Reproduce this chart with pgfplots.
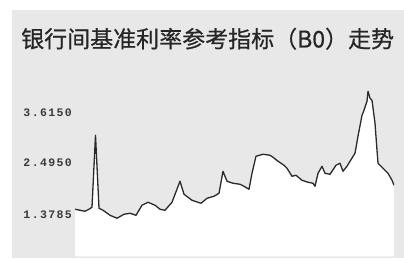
\documentclass[border=0pt]{standalone}
\usepackage{pgfplots}
\pgfplotsset{compat=1.18}
\usepackage{fontspec}
\newfontfamily\cjk[FakeBold=0.6]{Noto Sans CJK SC}
\newfontfamily\mono[LetterSpace=12]{Liberation Mono}
\definecolor{bg}{HTML}{E8E8E8}
\definecolor{ln}{HTML}{2A2A2A}
\definecolor{tk}{HTML}{3A3A3A}
\begin{document}
\begin{tikzpicture}[x=1pt,y=1pt]
\useasboundingbox (0,0) rectangle (404,259);
\fill[white] (0,0) rectangle (404,259);
\fill[bg] (12,1) rectangle (404,249);
\node[anchor=base west,inner sep=0pt,text=black!85] at (21,211.5)
  {\cjk\fontsize{23}{23}\selectfont 银行间基准利率参考指标（B0）走势};
\begin{axis}[
  at={(75,6)}, anchor=south west,
  scale only axis, width=319pt, height=173pt,
  xmin=0, xmax=319, ymin=0.534, ymax=4.328,
  axis line style={draw=none}, xtick=\empty, ytick=\empty,
  clip=true,
]
\addplot[draw=none, fill=white] coordinates {
(0,1.565) (5,1.543) (10,1.521) (14,1.565) (17,1.609) (20.5,3.188) (24,1.587)
(28,1.543) (35,1.433) (42,1.368) (49,1.455) (55,1.477) (61,1.433) (67,1.653)
(73,1.718) (80,1.653) (85,1.565) (90,1.543) (97,1.718) (105,2.179) (109,1.894)
(117,1.762) (126,1.696) (132,1.806) (139,1.850) (144,1.916) (148,2.398) (152,2.179)
(158,2.135) (165,2.113) (169,2.069) (174,2.003) (177,2.354) (181,2.727) (188,2.771)
(195,2.749) (198,2.705) (203,2.617) (209,2.530) (212,2.464) (217,2.288) (221,2.310)
(227,2.201) (233,2.157) (238,2.135) (240,2.069) (243,2.354) (247,2.508) (250,2.354)
(255,2.332) (261,2.530) (265,2.574) (268,2.398) (272,2.508) (275,2.617) (280,2.793)
(283,3.166) (287,3.626) (289,3.736) (292,3.933) (293,4.153) (295,3.999) (297,3.955)
(300,3.451) (302,2.859) (303,2.574) (308,2.464) (313,2.354) (317,2.201) (319,2.091)
} \closedcycle;
\addplot[ln, line width=1.3pt, line join=round] coordinates {
(0,1.565) (5,1.543) (10,1.521) (14,1.565) (17,1.609) (20.5,3.188) (24,1.587)
(28,1.543) (35,1.433) (42,1.368) (49,1.455) (55,1.477) (61,1.433) (67,1.653)
(73,1.718) (80,1.653) (85,1.565) (90,1.543) (97,1.718) (105,2.179) (109,1.894)
(117,1.762) (126,1.696) (132,1.806) (139,1.850) (144,1.916) (148,2.398) (152,2.179)
(158,2.135) (165,2.113) (169,2.069) (174,2.003) (177,2.354) (181,2.727) (188,2.771)
(195,2.749) (198,2.705) (203,2.617) (209,2.530) (212,2.464) (217,2.288) (221,2.310)
(227,2.201) (233,2.157) (238,2.135) (240,2.069) (243,2.354) (247,2.508) (250,2.354)
(255,2.332) (261,2.530) (265,2.574) (268,2.398) (272,2.508) (275,2.617) (280,2.793)
(283,3.166) (287,3.626) (289,3.736) (292,3.933) (293,4.153) (295,3.999) (297,3.955)
(300,3.451) (302,2.859) (303,2.574) (308,2.464) (313,2.354) (317,2.201) (319,2.091)
};
\end{axis}
\begin{scope}[every node/.style={anchor=east,inner sep=0pt,text=tk,font=\mono\bfseries\fontsize{11.5}{11.5}\selectfont}]
\node at (72,146) {3.6150};
\node at (72,96.5) {2.4950};
\node at (72,44) {1.3785};
\end{scope}
\end{tikzpicture}
\end{document}
